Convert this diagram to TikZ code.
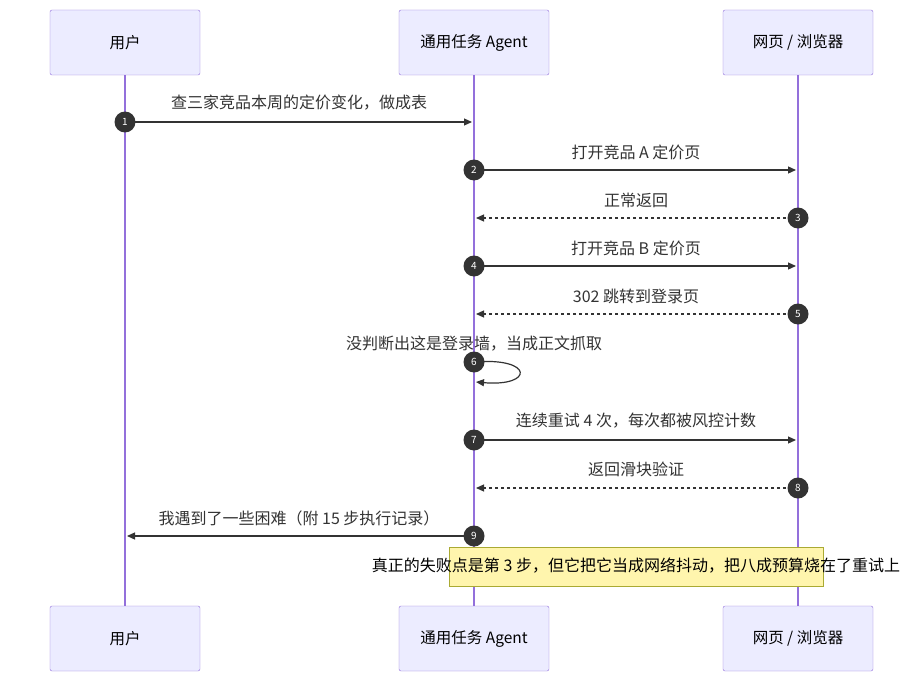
\documentclass[tikz,border=0pt]{standalone}
\usepackage{fontspec}
\setmainfont{Noto Sans CJK SC}
\usetikzlibrary{arrows.meta}
\definecolor{actfill}{HTML}{ECECFF}
\definecolor{actline}{HTML}{9370DB}
\definecolor{notefill}{HTML}{FFF5AD}
\definecolor{noteline}{HTML}{AAAA33}
\definecolor{msgline}{HTML}{333333}
\tikzset{
  actor/.style={draw=actline,fill=actfill,rounded corners=2pt,minimum width=150pt,minimum height=65pt,font=\fontsize{15.5}{18}\selectfont},
  msg/.style={draw=msgline,line width=1.2pt,-{Triangle[length=8pt,width=7pt]}},
  reply/.style={msg,dash pattern=on 3pt off 3pt},
  seq/.style={circle,fill=msgline,text=white,inner sep=0pt,minimum size=21pt,font=\fontsize{10}{12}\selectfont},
  lbl/.style={font=\fontsize{16}{18}\selectfont,text=msgline}
}
\begin{document}
\begin{tikzpicture}[x=1pt,y=-1pt]
	\useasboundingbox (0,0) rectangle (923,682);

	% lifelines
	\draw [actline,line width=1.5pt] (125,75) -- (125,606);
	\draw [actline,line width=1.5pt] (474,75) -- (474,606);
	\draw [actline,line width=1.5pt] (798,75) -- (798,606);

	% participants
	\node [actor] (userT) at (125,42.5) {用户};
	\node [actor] (agentT) at (474,42.5) {通用任务 Agent};
	\node [actor] (webT) at (798,42.5) {网页 / 浏览器};
	\node [actor] (userB) at (125,638.5) {用户};
	\node [actor] (agentB) at (474,638.5) {通用任务 Agent};
	\node [actor] (webB) at (798,638.5) {网页 / 浏览器};

	% messages
	\coordinate (u1) at (125,122); \coordinate (a1) at (472,122);
	\draw [msg] (u1) -- (a1);
	\node [lbl] at (299,103) {查三家竞品本周的定价变化，做成表};
	\node [seq] at (u1) {1};

	\coordinate (a2) at (474,170); \coordinate (w2) at (796,170);
	\draw [msg] (a2) -- (w2);
	\node [lbl] at (636,152) {打开竞品 A 定价页};
	\node [seq] at (a2) {2};

	\coordinate (w3) at (798,218); \coordinate (a3) at (476,218);
	\draw [reply] (w3) -- (a3);
	\node [lbl] at (636,200) {正常返回};
	\node [seq] at (w3) {3};

	\coordinate (a4) at (474,266); \coordinate (w4) at (796,266);
	\draw [msg] (a4) -- (w4);
	\node [lbl] at (636,248) {打开竞品 B 定价页};
	\node [seq] at (a4) {4};

	\coordinate (w5) at (798,314); \coordinate (a5) at (476,314);
	\draw [reply] (w5) -- (a5);
	\node [lbl] at (636,296) {302 跳转到登录页};
	\node [seq] at (w5) {5};

	\coordinate (a6) at (474,362); \coordinate (a6e) at (476,382);
	\draw [msg] (a6) .. controls (534,357) and (534,387) .. (a6e);
	\node [lbl] at (474,344) {没判断出这是登录墙，当成正文抓取};
	\node [seq] at (a6) {6};

	\coordinate (a7) at (474,440); \coordinate (w7) at (796,440);
	\draw [msg] (a7) -- (w7);
	\node [lbl] at (636,421) {连续重试 4 次，每次都被风控计数};
	\node [seq] at (a7) {7};

	\coordinate (w8) at (798,488); \coordinate (a8) at (476,488);
	\draw [reply] (w8) -- (a8);
	\node [lbl] at (636,469) {返回滑块验证};
	\node [seq] at (w8) {8};

	\coordinate (a9) at (474,536); \coordinate (u9) at (127,536);
	\draw [msg] (a9) -- (u9);
	\node [lbl] at (299,518) {我遇到了一些困难（附 15 步执行记录）};
	\node [seq] at (a9) {9};

	% note
	\draw [noteline,fill=notefill] (449,547) rectangle (823,586);
	\node [font=\fontsize{16}{18}\selectfont] (note) at (636,566) {真正的失败点是第 3 步，但它把它当成网络抖动，把八成预算烧在了重试上};
\end{tikzpicture}
\end{document}
